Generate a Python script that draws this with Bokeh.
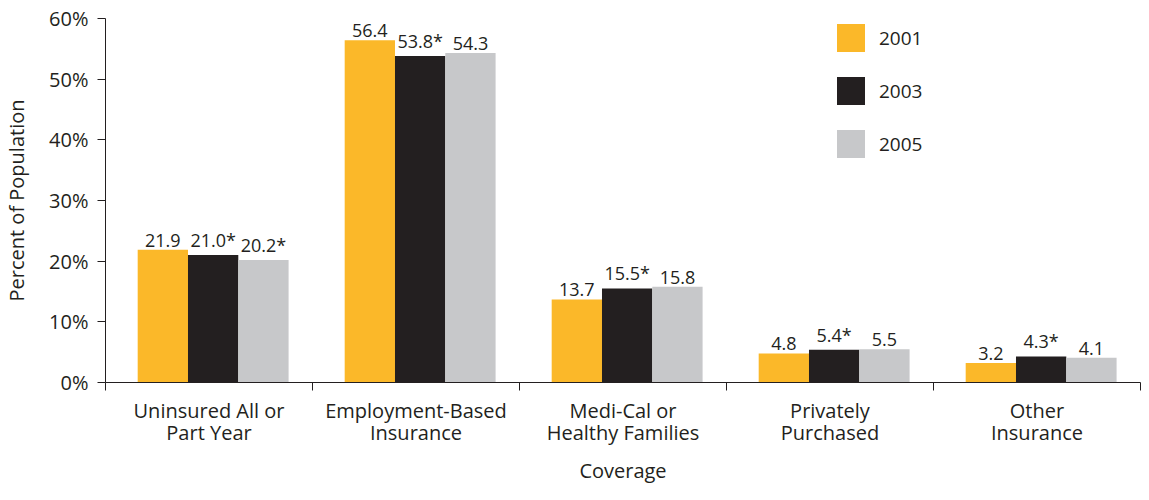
from bokeh.plotting import figure
from bokeh.models import (ColumnDataSource, FixedTicker, Legend, LegendItem,
                          PrintfTickFormatter, Range1d, LabelSet)
from bokeh.core.properties import value
from bokeh.transform import dodge
from bokeh.embed import file_html
from bokeh.resources import INLINE

categories = ["Uninsured All or\nPart Year", "Employment-Based\nInsurance",
              "Medi-Cal or\nHealthy Families", "Privately\nPurchased", "Other\nInsurance"]
years = ["2001", "2003", "2005"]
v2001 = [21.9, 56.4, 13.7, 4.8, 3.2]
v2003 = [21.0, 53.8, 15.5, 5.4, 4.3]
v2005 = [20.2, 54.3, 15.8, 5.5, 4.1]
star2003 = [True, True, True, True, True]
star2005 = [True, False, False, False, False]
y_ticks = [0, 10, 20, 30, 40, 50, 60]

colors = ["#FBB829", "#231F20", "#C7C8CA"]
FONT = "Open Sans"
TXT = "#231F20"

pos = [i + 0.5 for i in range(len(categories))]
src = ColumnDataSource(dict(
    x=pos, v2001=v2001, v2003=v2003, v2005=v2005,
    l2001=[f"{v:.1f}" for v in v2001],
    l2003=[f"{v:.1f}" + ("*" if s else "") for v, s in zip(v2003, star2003)],
    l2005=[f"{v:.1f}" + ("*" if s else "") for v, s in zip(v2005, star2005)],
))

p = figure(width=1141, height=492, output_backend="svg", toolbar_location=None,
           x_range=Range1d(0, len(categories)), y_range=Range1d(0, 60),
           min_border_left=105, min_border_right=1, min_border_top=18,
           min_border_bottom=110)
p.outline_line_color = None
p.xgrid.grid_line_color = None
p.ygrid.grid_line_color = None

bw = 0.243
shift = 0.02
offsets = [shift - bw, shift, shift + bw]
items = []
for yr, col, off in zip(years, colors, offsets):
    r = p.vbar(x=dodge("x", off), top="v" + yr, width=bw, source=src,
               fill_color=col, line_color=None)
    items.append(LegendItem(label=yr, renderers=[r]))
    lbl = LabelSet(x=dodge("x", off), y="v" + yr, text="l" + yr, source=src,
                   text_align="center", text_baseline="bottom", y_offset=3,
                   text_font=value(FONT), text_font_size="18px", text_color=TXT)
    p.add_layout(lbl)

legend = Legend(items=items, location=(728, 221), orientation="vertical",
                glyph_width=35, glyph_height=35, spacing=18, padding=0, margin=0,
                label_standoff=11, label_text_font=FONT, label_text_font_size="19px",
                label_text_color=TXT,
                border_line_color=None, background_fill_alpha=0)
p.add_layout(legend)

# x axis
xa = p.xaxis[0]
xa.ticker = FixedTicker(ticks=pos, minor_ticks=list(range(len(categories) + 1)))
xa.major_label_overrides = {p_: c for p_, c in zip(pos, categories)}
xa.major_tick_out = 0
xa.major_tick_in = 0
xa.minor_tick_out = 8
xa.minor_tick_in = 0
xa.minor_tick_line_color = TXT
xa.axis_line_color = TXT
xa.major_label_standoff = 6
xa.major_label_text_font = FONT
xa.major_label_text_font_size = "20px"
xa.major_label_text_color = TXT
xa.major_label_text_line_height = 0.84
xa.axis_label = "Coverage"
xa.axis_label_standoff = 8
xa.axis_label_text_font = FONT
xa.axis_label_text_font_size = "20px"
xa.axis_label_text_font_style = "normal"
xa.axis_label_text_color = TXT

ya = p.yaxis[0]
ya.ticker = FixedTicker(ticks=y_ticks, minor_ticks=[])
ya.formatter = PrintfTickFormatter(format="%d%%")
ya.major_tick_out = 8
ya.major_tick_in = 0
ya.major_tick_line_color = TXT
ya.axis_line_color = TXT
ya.major_label_standoff = 9
ya.major_label_text_font = FONT
ya.major_label_text_font_size = "20px"
ya.major_label_text_color = TXT
ya.axis_label = "Percent of Population"
ya.axis_label_standoff = 16
ya.axis_label_text_font = FONT
ya.axis_label_text_font_size = "20px"
ya.axis_label_text_font_style = "normal"
ya.axis_label_text_color = TXT

open("out.html", "w").write(file_html(p, INLINE))
